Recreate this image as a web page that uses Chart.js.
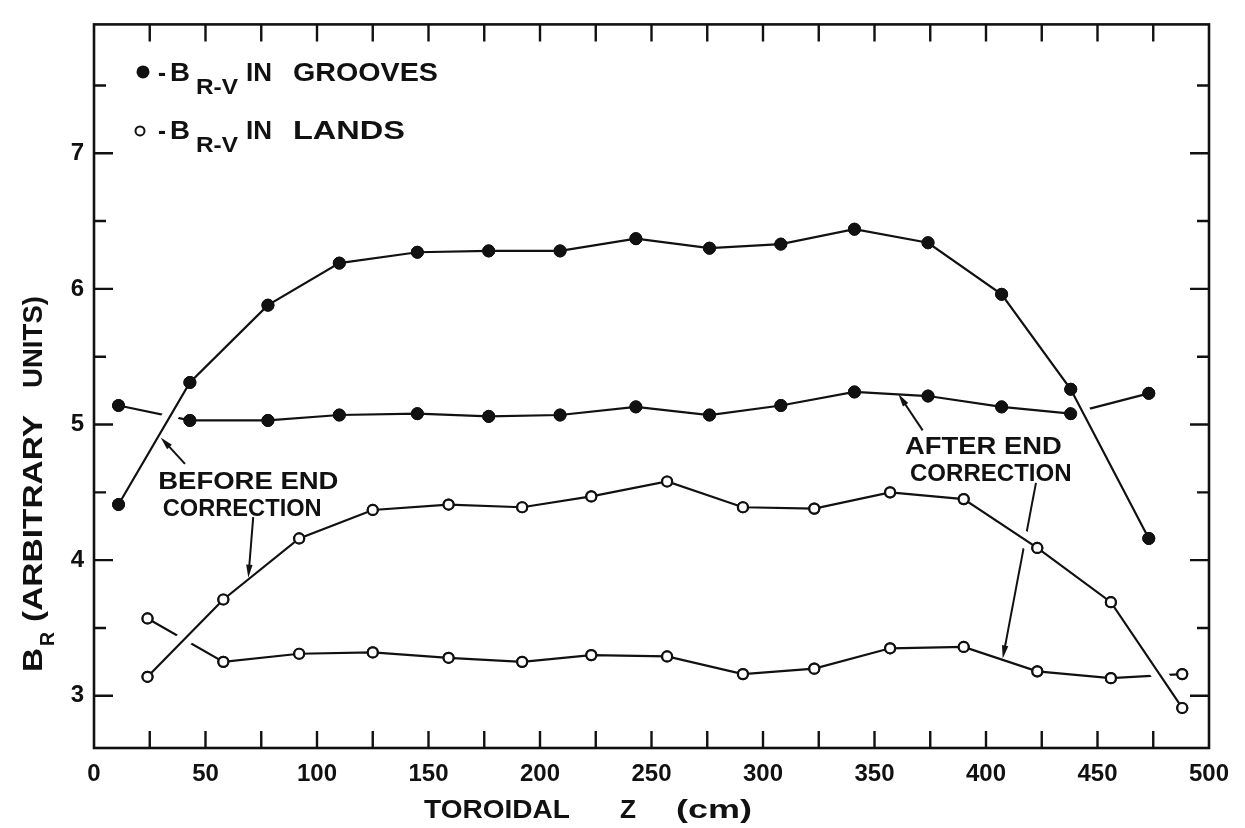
<!DOCTYPE html>
<html>
<head>
<meta charset="utf-8">
<script src="https://cdn.jsdelivr.net/npm/chart.js@4.4.1/dist/chart.umd.min.js"></script>
<style>
  html, body { margin: 0; padding: 0; background: #fff; }
  #wrap { width: 1245px; height: 828px; }
</style>
</head>
<body>
<div id="wrap"><canvas id="c" width="1245" height="828"></canvas></div>
<script>
// Probe stations along the toroidal direction (cm)
const grooveZ = [11, 43, 78, 110, 145, 177, 209, 243, 276, 308, 341, 374, 407, 438, 473];
const landZ   = [24, 58, 92, 125, 159, 192, 223, 257, 291, 323, 357, 390, 423, 456, 488];

// -B_R-V in the grooves, before and after the end correction
const grooveBefore = [4.41, 5.31, 5.88, 6.19, 6.27, 6.28, 6.28, 6.37, 6.30, 6.33, 6.44, 6.34, 5.96, 5.26, 4.16];
const grooveAfter  = [5.14, 5.03, 5.03, 5.07, 5.08, 5.06, 5.07, 5.13, 5.07, 5.14, 5.24, 5.21, 5.13, 5.08, 5.23];

// -B_R-V on the lands, before and after the end correction
const landBefore = [3.14, 3.71, 4.16, 4.37, 4.41, 4.39, 4.47, 4.58, 4.39, 4.38, 4.50, 4.45, 4.09, 3.69, 2.91];
const landAfter  = [3.57, 3.25, 3.31, 3.32, 3.28, 3.25, 3.30, 3.29, 3.16, 3.20, 3.35, 3.36, 3.18, 3.13, 3.16];

// Axis ticks and labels
const xTicks  = [0, 25, 50, 75, 100, 125, 150, 175, 200, 225, 250, 275, 300, 325, 350, 375, 400, 425, 450, 475, 500];
const xLabels = [0, 50, 100, 150, 200, 250, 300, 350, 400, 450, 500];
const yTicks  = [3, 3.5, 4, 4.5, 5, 5.5, 6, 6.5, 7, 7.5];
const yLabels = [3, 4, 5, 6, 7];

// Callout texts and arrows, placed in data units
const calloutTexts = [
  { text: 'BEFORE END', x0: 28.8,  x1: 109.6, y: 4.522 },
  { text: 'CORRECTION', x0: 30.8,  x1: 102.1, y: 4.329 },
  { text: 'AFTER END',  x0: 363.7, x1: 434.0, y: 4.783 },
  { text: 'CORRECTION', x0: 365.9, x1: 438.4, y: 4.583 }
];
const calloutArrows = [
  { from: [40.8, 4.710],  to: [29.9, 4.905],  under: false },
  { from: [71.4, 4.317],  to: [69.2, 3.870],  under: false },
  { from: [371.6, 4.957], to: [360.7, 5.225], under: false },
  { from: [422.4, 4.570], to: [407.5, 3.275], under: true }
];

const FONT = '"Liberation Sans", Arial, Helvetica, sans-serif';
const INK = '#111';

function pts(xs, ys) { return xs.map((x, i) => ({ x: x, y: ys[i] })); }

// Draws a string stretched to span exactly x0..x1 on the given baseline
function fitText(ctx, str, x0, x1, baseline, size) {
  ctx.save();
  ctx.font = 'bold ' + size + 'px ' + FONT;
  ctx.textAlign = 'left';
  ctx.textBaseline = 'alphabetic';
  const w = ctx.measureText(str).width;
  ctx.translate(x0, baseline);
  ctx.scale((x1 - x0) / w, 1);
  ctx.fillStyle = INK;
  ctx.fillText(str, 0, 0);
  ctx.restore();
}

function drawArrow(chart, a) {
  const ctx = chart.ctx, xs = chart.scales.x, ys = chart.scales.y;
  const x1 = xs.getPixelForValue(a.from[0]), y1 = ys.getPixelForValue(a.from[1]);
  const x2 = xs.getPixelForValue(a.to[0]),   y2 = ys.getPixelForValue(a.to[1]);
  const ang = Math.atan2(y2 - y1, x2 - x1);
  const len = 13, half = 3.2;
  ctx.save();
  ctx.strokeStyle = INK; ctx.fillStyle = INK; ctx.lineWidth = 2;
  ctx.beginPath(); ctx.moveTo(x1, y1); ctx.lineTo(x2 - Math.cos(ang) * len * 0.6, y2 - Math.sin(ang) * len * 0.6); ctx.stroke();
  ctx.beginPath();
  ctx.moveTo(x2, y2);
  ctx.lineTo(x2 - Math.cos(ang) * len - Math.sin(ang) * half, y2 - Math.sin(ang) * len + Math.cos(ang) * half);
  ctx.lineTo(x2 - Math.cos(ang) * len + Math.sin(ang) * half, y2 - Math.sin(ang) * len - Math.cos(ang) * half);
  ctx.closePath(); ctx.fill();
  ctx.restore();
}

const figurePlugin = {
  id: 'figure',
  beforeDatasetsDraw(chart) {
    calloutArrows.filter(a => a.under).forEach(a => drawArrow(chart, a));
  },
  // white casing under the uncorrected curves, so crossing lines break around them
  beforeDatasetDraw(chart, args) {
    const ds = chart.data.datasets[args.index];
    if (!ds.casing) return;
    const ctx = chart.ctx, p = args.meta.data;
    ctx.save();
    ctx.strokeStyle = '#fff'; ctx.lineWidth = 16; ctx.lineJoin = 'round'; ctx.lineCap = 'butt';
    ctx.beginPath();
    p.forEach((el, i) => i ? ctx.lineTo(el.x, el.y) : ctx.moveTo(el.x, el.y));
    ctx.stroke();
    ctx.restore();
  },
  afterDatasetsDraw(chart) {
    const ctx = chart.ctx;
    // markers on top of every line
    chart.getSortedVisibleDatasetMetas().slice().reverse()
      .forEach(m => m.data.forEach(el => el.draw(ctx, chart.chartArea)));
    calloutArrows.filter(a => !a.under).forEach(a => drawArrow(chart, a));
    const xs = chart.scales.x, ys = chart.scales.y;
    calloutTexts.forEach(t => fitText(ctx, t.text, xs.getPixelForValue(t.x0), xs.getPixelForValue(t.x1), ys.getPixelForValue(t.y), 24));
  },
  afterDraw(chart) {
    const ctx = chart.ctx, a = chart.chartArea, xs = chart.scales.x, ys = chart.scales.y;
    ctx.save();
    ctx.strokeStyle = INK; ctx.lineWidth = 2.6; ctx.lineCap = 'butt';
    ctx.strokeRect(a.left, a.top, a.right - a.left, a.bottom - a.top);
    ctx.lineWidth = 2.4;
    ctx.beginPath();
    xTicks.forEach(v => {
      if (v === 0 || v === 500) return;
      const x = xs.getPixelForValue(v);
      ctx.moveTo(x, a.bottom); ctx.lineTo(x, a.bottom - 17);
      ctx.moveTo(x, a.top);    ctx.lineTo(x, a.top + 17);
    });
    yTicks.forEach(v => {
      const y = ys.getPixelForValue(v);
      const len = Number.isInteger(v) ? 19 : 12;
      ctx.moveTo(a.left, y);  ctx.lineTo(a.left + len, y);
      ctx.moveTo(a.right, y); ctx.lineTo(a.right - len, y);
    });
    ctx.stroke();
    ctx.restore();

    // legend
    const L = a.left, T = a.top;
    ctx.save();
    ctx.fillStyle = INK; ctx.strokeStyle = INK;
    ctx.beginPath(); ctx.arc(L + 49, T + 47.5, 6.5, 0, Math.PI * 2); ctx.fill();
    ctx.lineWidth = 2; ctx.fillStyle = '#fff';
    ctx.beginPath(); ctx.arc(L + 46, T + 106.5, 4.5, 0, Math.PI * 2); ctx.fill(); ctx.stroke();
    ctx.restore();
    [
      { base: T + 56.3, sub: T + 69.7, word: 'GROOVES', w1: L + 344 },
      { base: T + 114.7, sub: T + 128, word: 'LANDS', w1: L + 311 }
    ].forEach(r => {
      fitText(ctx, '-', L + 64, L + 72, r.base, 25);
      fitText(ctx, 'B', L + 76, L + 96, r.base, 25);
      fitText(ctx, 'R-V', L + 102, L + 144, r.sub, 22);
      fitText(ctx, 'IN', L + 152, L + 178, r.base, 25);
      fitText(ctx, r.word, L + 199, r.w1, r.base, 25);
    });

    // x-axis title
    fitText(ctx, 'TOROIDAL', 424, 570, 818, 25);
    fitText(ctx, 'Z', 620, 636, 818, 25);
    fitText(ctx, '(cm)', 676, 752, 818, 25);

    // y-axis title, reading upward
    ctx.save();
    ctx.translate(42, 0);
    ctx.rotate(-Math.PI / 2);
    fitText(ctx, 'B', -672, -648, 0, 27);
    fitText(ctx, 'R', -646, -632, 12, 20);
    fitText(ctx, '(ARBITRARY', -622, -415, 0, 27);
    fitText(ctx, 'UNITS)', -388, -296, 0, 27);
    ctx.restore();
  }
};

Chart.defaults.font.family = FONT;
Chart.defaults.font.size = 24;
Chart.defaults.font.weight = 'bold';
Chart.defaults.color = INK;

const lineStyle = { borderColor: INK, borderWidth: 2.2, tension: 0, fill: false };
const filled = { pointRadius: 6, pointBackgroundColor: INK, pointBorderColor: INK, pointBorderWidth: 1 };
const hollow = { pointRadius: 5, pointBackgroundColor: '#fff', pointBorderColor: INK, pointBorderWidth: 2.2 };

new Chart(document.getElementById('c'), {
  type: 'line',
  data: {
    datasets: [
      Object.assign({ label: 'Grooves, before end correction', data: pts(grooveZ, grooveBefore), order: 1, casing: true }, lineStyle, filled),
      Object.assign({ label: 'Lands, before end correction',   data: pts(landZ, landBefore),     order: 1, casing: true }, lineStyle, hollow),
      Object.assign({ label: 'Grooves, after end correction',  data: pts(grooveZ, grooveAfter),  order: 2 }, lineStyle, filled),
      Object.assign({ label: 'Lands, after end correction',    data: pts(landZ, landAfter),      order: 2 }, lineStyle, hollow)
    ]
  },
  options: {
    responsive: false,
    animation: false,
    devicePixelRatio: 1,
    layout: { padding: { left: 0, top: 12, right: 36, bottom: 0 } },
    plugins: { legend: { display: false }, tooltip: { enabled: false } },
    scales: {
      x: {
        type: 'linear', min: 0, max: 500,
        afterBuildTicks: s => { s.ticks = xTicks.map(v => ({ value: v })); },
        afterFit: s => { s.height = 80; },
        grid: { display: false, drawTicks: false },
        border: { display: false },
        ticks: {
          autoSkip: false, maxRotation: 0, padding: 12,
          callback: v => xLabels.includes(v) ? String(v) : ''
        }
      },
      y: {
        type: 'linear', min: 2.615, max: 7.95,
        afterBuildTicks: s => { s.ticks = yTicks.map(v => ({ value: v })); },
        afterFit: s => { s.width = 94; },
        grid: { display: false, drawTicks: false },
        border: { display: false },
        ticks: {
          autoSkip: false, padding: 10,
          callback: v => yLabels.includes(v) ? String(v) : ''
        }
      }
    }
  },
  plugins: [figurePlugin]
});
</script>
</body>
</html>
